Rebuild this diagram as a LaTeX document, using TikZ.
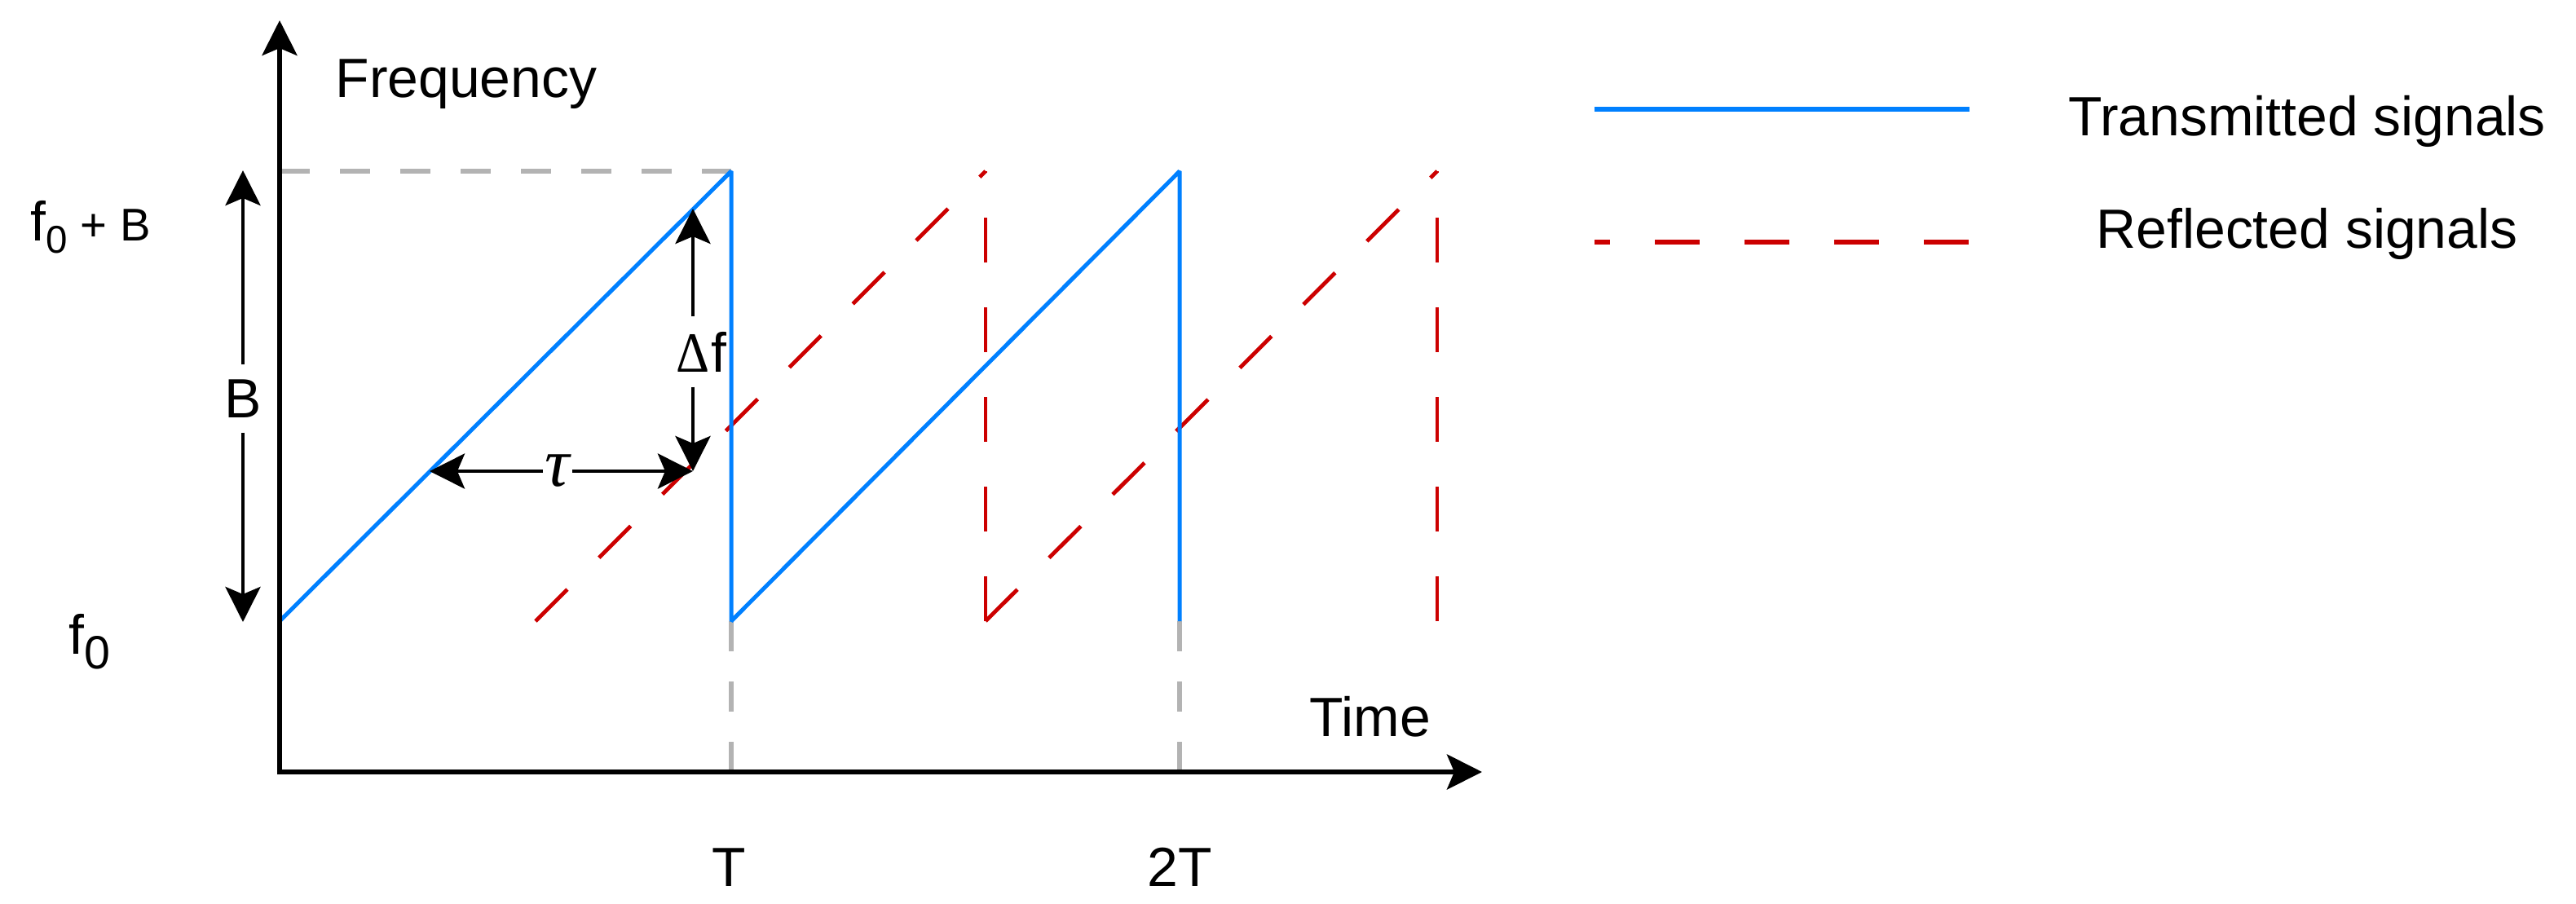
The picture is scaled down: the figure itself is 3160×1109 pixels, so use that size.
\documentclass[tikz,border=0pt]{standalone}
\usepackage{graphicx}
\usepackage{fontspec}
\setmainfont{Liberation Sans}
\newfontfamily\serifgr{Liberation Serif}
\usetikzlibrary{arrows.meta}
\definecolor{txblue}{HTML}{0080FF}
\definecolor{rxred}{HTML}{CC0000}
\definecolor{guide}{HTML}{B3B3B3}
\begin{document}
\begin{tikzpicture}[x=0.01cm,y=-0.01cm,
  axis/.style={line width=0.055cm, line join=miter,
    {Stealth[length=0.43cm,width=0.43cm,inset=0.09cm]}-{Stealth[length=0.43cm,width=0.43cm,inset=0.09cm]}},
  dim/.style={line width=0.047cm, -{Stealth[length=0.43cm,width=0.43cm,inset=0.09cm]}},
  txline/.style={txblue, line width=0.05cm, line join=bevel},
  rxline/.style={rxred, line width=0.048cm, dash pattern=on 0.55cm off 0.55cm},
  guideline/.style={guide, line width=0.052cm, dash pattern=on 0.37cm off 0.37cm},
  lbl/.style={inner sep=0pt, font=\fontsize{19.3}{23}\selectfont},
]
\useasboundingbox (0,0) rectangle (3160,1109);

% key points
\coordinate (O) at (343,947);
\coordinate (Ytip) at (343,25);
\coordinate (Xtip) at (1818,947);
\coordinate (A0) at (343,762);
\coordinate (A1) at (897,210);
\coordinate (A2) at (897,762);
\coordinate (A3) at (1447,210);
\coordinate (A4) at (1447,762);
\coordinate (R0) at (657,762);
\coordinate (R1) at (1209,210);
\coordinate (R2) at (1209,762);
\coordinate (R3) at (1763,210);
\coordinate (R4) at (1763,762);
\coordinate (GT) at (343,210);
\coordinate (TB1) at (897,947);
\coordinate (TB2) at (1447,947);
\coordinate (Btop) at (298,209);
\coordinate (Bbot) at (298,763);
\coordinate (P) at (850,578);
\coordinate (Dtop) at (850,256);
\coordinate (TL) at (527,578);

% guides
\draw[guideline] (GT) -- (A1);
\draw[guideline] (A2) -- (TB1);
\draw[guideline] (A4) -- (TB2);

% reflected signal
\draw[rxline] (R0) -- (R1);
\draw[rxline] (R2) -- (R1);
\draw[rxline] (R2) -- (R3);
\draw[rxline] (R4) -- (R3);

% transmitted signal
\draw[txline] (A0) -- (A1) -- (A2) -- (A3) -- (A4);

% axes
\draw[axis] (Ytip) -- (O) -- (Xtip);

% labels
\node[lbl, anchor=base west] (freq) at (411,119) {Frequency};
\node[lbl, anchor=base west] (time) at (1606,903) {Time};
\node[lbl, anchor=base] (tT) at (894,1087) {T};
\node[lbl, anchor=base] (t2T) at (1447,1087) {2T};
\node[lbl, anchor=base west] (fB) at (37,295)
  {f\raisebox{-0.15cm}{\fontsize{13.5}{16}\selectfont 0}\fontsize{16}{19}\selectfont\ + B};
\node[lbl, anchor=base west] (fz) at (84,802)
  {f\raisebox{-0.18cm}{\fontsize{16.3}{19}\selectfont 0}};

% B dimension
\node[lbl, anchor=base, inner ysep=0.18cm] (Blbl) at (298,512) {B};
\draw[dim] (Blbl.north) -- (Btop);
\draw[dim] (Blbl.south) -- (Bbot);

% delta f
\node[lbl, anchor=base west, inner ysep=0.18cm] (df) at (829,456)
  {\resizebox{0.41cm}{0.46cm}{\serifgr Δ}\hspace{0.02cm}f};
\draw[dim] (P |- df.north) -- (Dtop);
\draw[dim] (P |- df.south) -- (P);

% tau
\node[lbl, anchor=base, inner xsep=0.02cm] (tau) at (684,596)
  {\fontsize{24}{28}\selectfont\serifgr\itshape τ};
\draw[dim] (tau.west |- P) -- (TL);
\draw[dim] (tau.east |- P) -- (P);

% legend
\coordinate (L1a) at (1956,134);
\coordinate (L1b) at (2416,134);
\coordinate (L2a) at (1956,297);
\coordinate (L2b) at (2416,297);
\draw[txline, line width=0.052cm] (L1a) -- (L1b);
\draw[rxline, line width=0.052cm, dash phase=0.36cm] (L2a) -- (L2b);
\node[lbl, anchor=base] (legtx) at (2830,166) {Transmitted signals};
\node[lbl, anchor=base] (legrx) at (2830,304) {Reflected signals};
\end{tikzpicture}
\end{document}
